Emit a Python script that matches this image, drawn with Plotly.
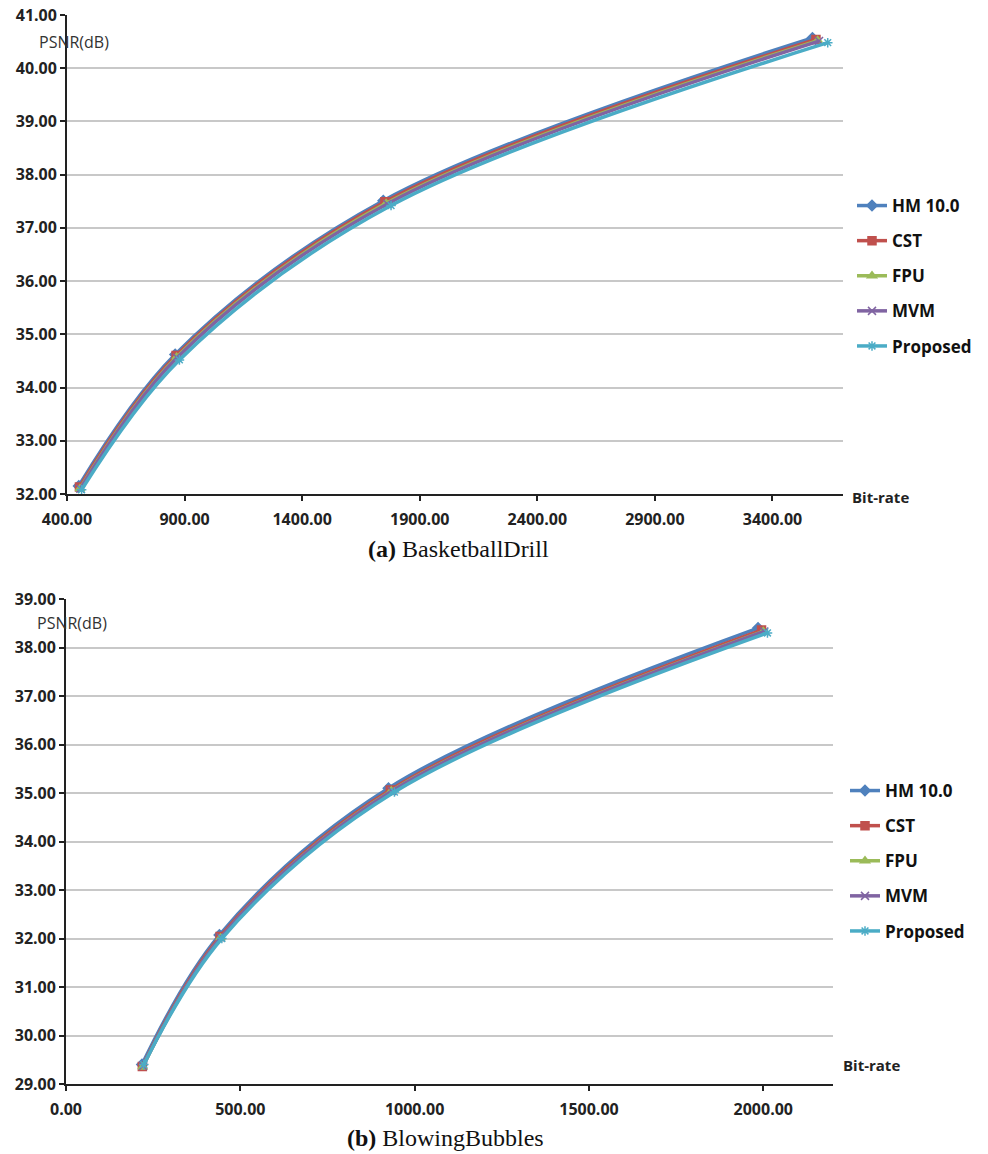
import plotly.graph_objects as go

series_names = ["HM 10.0", "CST", "FPU", "MVM", "Proposed"]
colors = ["#4F81BD", "#C0504D", "#9BBB59", "#8064A2", "#4BACC6"]
symbols = ["diamond", "square", "triangle-up", "x-thin-open", "asterisk-open"]

# (a) BasketballDrill
a_rate = {
    "HM 10.0": [450, 860, 1745, 3570],
    "CST": [453, 864, 1752, 3585],
    "FPU": [455, 866, 1757, 3592],
    "MVM": [457, 868, 1762, 3598],
    "Proposed": [462, 878, 1778, 3635],
}
a_psnr = {
    "HM 10.0": [32.15, 34.62, 37.51, 40.57],
    "CST": [32.13, 34.60, 37.49, 40.54],
    "FPU": [32.10, 34.57, 37.46, 40.52],
    "MVM": [32.10, 34.56, 37.45, 40.51],
    "Proposed": [32.08, 34.52, 37.42, 40.48],
}

# (b) BlowingBubbles
b_rate = {
    "HM 10.0": [218, 440, 925, 1985],
    "CST": [219, 442, 930, 1995],
    "FPU": [220, 443, 933, 2000],
    "MVM": [221, 444, 935, 2003],
    "Proposed": [223, 447, 942, 2012],
}
b_psnr = {
    "HM 10.0": [29.40, 32.07, 35.10, 38.40],
    "CST": [29.36, 32.04, 35.06, 38.36],
    "FPU": [29.35, 32.01, 35.04, 38.33],
    "MVM": [29.37, 32.02, 35.04, 38.33],
    "Proposed": [29.40, 32.00, 35.02, 38.30],
}

W, H = 988, 1154
def px(x):
    return x / W
def py(y):
    return 1 - y / H

fig = go.Figure()

for i, name in enumerate(series_names):
    fig.add_trace(go.Scatter(
        x=a_rate[name], y=a_psnr[name], name=name, mode="lines+markers",
        line=dict(color=colors[i], width=3.5, shape="spline"),
        marker=dict(symbol=symbols[i], size=8, color=colors[i],
                    line=dict(color=colors[i], width=1.5)),
        xaxis="x", yaxis="y", legend="legend", legendgroup="a" + str(i),
    ))
for i, name in enumerate(series_names):
    fig.add_trace(go.Scatter(
        x=b_rate[name], y=b_psnr[name], name=name, mode="lines+markers",
        line=dict(color=colors[i], width=3.5, shape="spline"),
        marker=dict(symbol=symbols[i], size=8, color=colors[i],
                    line=dict(color=colors[i], width=1.5)),
        xaxis="x2", yaxis="y2", legend="legend2", legendgroup="b" + str(i),
    ))

tickfont = dict(family="Open Sans", size=16, color="#222222", weight="bold")
axis_common = dict(showline=True, linecolor="#222222", linewidth=1.8,
                   ticks="outside", ticklen=5, tickcolor="#222222", tickwidth=1.5,
                   tickfont=tickfont, zeroline=False, tickformat=".2f",
                   automargin=False)

fig.update_layout(
    width=W, height=H,
    margin=dict(l=0, r=0, t=0, b=0),
    paper_bgcolor="white", plot_bgcolor="white",
    xaxis=dict(domain=[px(67), px(843)], range=[400, 3700], tick0=400, dtick=500,
               showgrid=False, anchor="y", ticklabelstandoff=5, **axis_common),
    yaxis=dict(domain=[py(494), py(15)], range=[32, 41], dtick=1,
               showgrid=True, gridcolor="#C8C8C8", gridwidth=1.5, anchor="x",
               **axis_common),
    xaxis2=dict(domain=[px(66), px(833)], range=[0, 2200], tick0=0, dtick=500,
                showgrid=False, anchor="y2", ticklabelstandoff=5, **axis_common),
    yaxis2=dict(domain=[py(1084), py(599)], range=[29, 39], dtick=1,
                showgrid=True, gridcolor="#C8C8C8", gridwidth=1.5, anchor="x2",
                **axis_common),
    legend=dict(x=px(852), y=py(188), xanchor="left", yanchor="top",
                font=dict(family="Open Sans", size=17, color="#111111", weight="bold"),
                traceorder="grouped", tracegroupgap=10, bgcolor="rgba(0,0,0,0)",
                itemwidth=30),
    legend2=dict(x=px(845), y=py(773), xanchor="left", yanchor="top",
                 font=dict(family="Open Sans", size=17, color="#111111", weight="bold"),
                 traceorder="grouped", tracegroupgap=10, bgcolor="rgba(0,0,0,0)",
                 itemwidth=30),
    showlegend=True,
)

annots = [
    dict(text="PSNR(dB)", x=px(74), y=py(42), font=dict(family="Open Sans", size=16, color="#333333")),
    dict(text="PSNR(dB)", x=px(72), y=py(623), font=dict(family="Open Sans", size=16, color="#333333")),
    dict(text="<b>Bit-rate</b>", x=px(880), y=py(497), font=dict(family="Open Sans", size=15, color="#222222")),
    dict(text="<b>Bit-rate</b>", x=px(871), y=py(1065), font=dict(family="Open Sans", size=15, color="#222222")),
    dict(text="<b>(a)</b> BasketballDrill", x=px(458), y=py(549), font=dict(family="Liberation Serif", size=24, color="#111111")),
    dict(text="<b>(b)</b> BlowingBubbles", x=px(445), y=py(1138), font=dict(family="Liberation Serif", size=24, color="#111111")),
]
for a in annots:
    fig.add_annotation(xref="paper", yref="paper", showarrow=False,
                       xanchor="center", yanchor="middle", **a)

fig.write_html(
    "out.html",
    config={"displayModeBar": False},
    post_script="document.body.style.margin='0';document.body.style.overflow='hidden';",
)
